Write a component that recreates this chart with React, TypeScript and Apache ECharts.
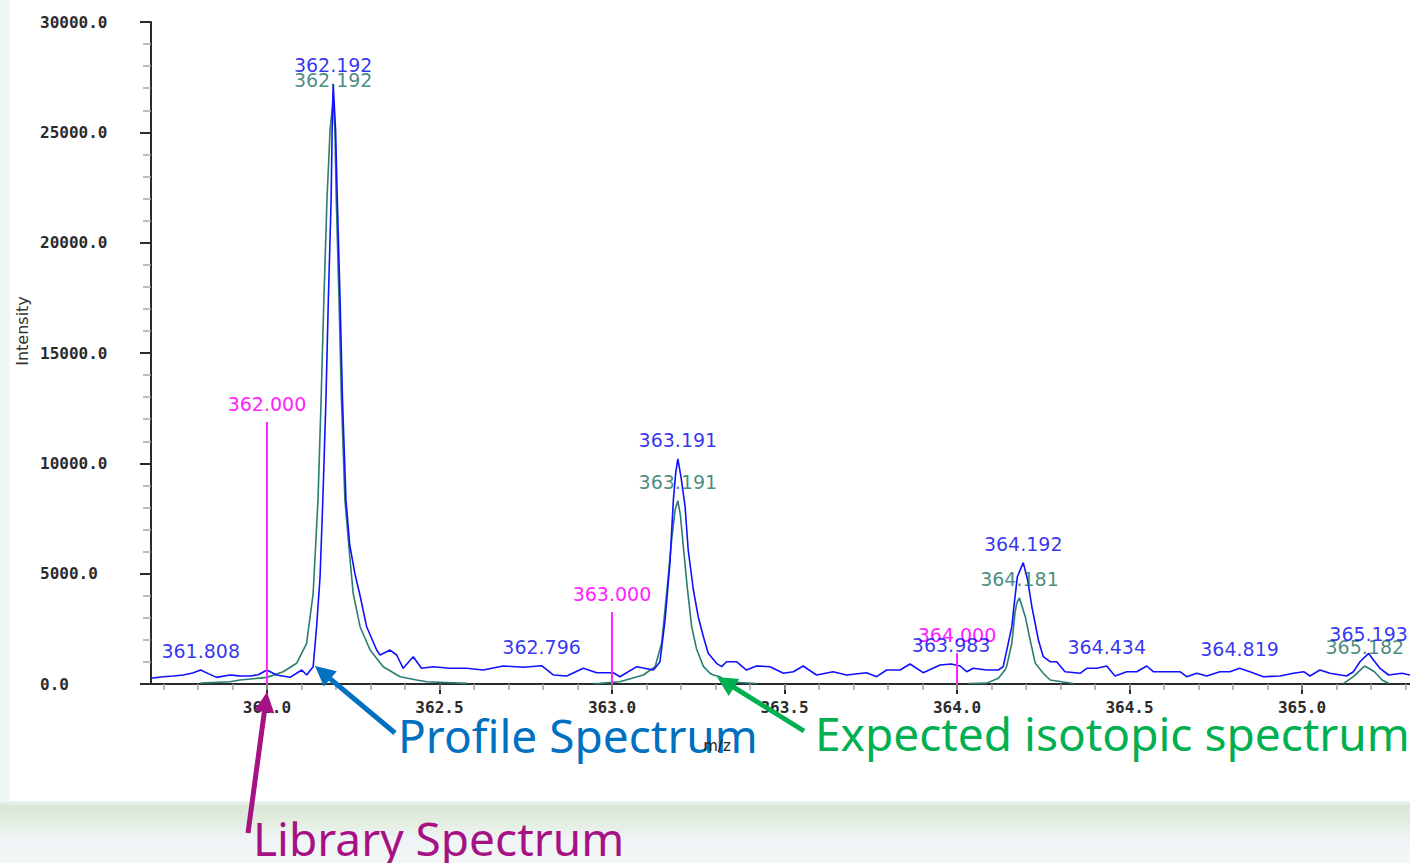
import React, { useEffect, useRef } from "react";
import * as echarts from "echarts";

// ---------- axis ticks ----------
const xMajorTicks = [362.0, 362.5, 363.0, 363.5, 364.0, 364.5, 365.0];
const xMinorTicks = [
  361.7, 361.8, 361.9, 362.0, 362.1, 362.2, 362.3, 362.4, 362.5, 362.6, 362.7, 362.8, 362.9,
  363.0, 363.1, 363.2, 363.3, 363.4, 363.5, 363.6, 363.7, 363.8, 363.9, 364.0, 364.1, 364.2,
  364.3, 364.4, 364.5, 364.6, 364.7, 364.8, 364.9, 365.0, 365.1, 365.2, 365.3,
];
const xRange = [361.664, 365.313];
const yRange = [0, 30000];

// ---------- profile spectrum (blue) [m/z, intensity] ----------
const profileSpectrum: [number, number][] = [
  [361.664, 260], [361.699, 330], [361.730, 360], [361.757, 410], [361.785, 500], [361.808, 634],
  [361.830, 470], [361.854, 300], [361.893, 410], [361.920, 370], [361.951, 363], [361.975, 420],
  [362.000, 634], [362.028, 408], [362.067, 302], [362.101, 634], [362.115, 408], [362.134, 785],
  [362.144, 2600], [362.154, 4860], [362.162, 8340], [362.171, 12870], [362.178, 17400],
  [362.186, 21935], [362.189, 25100], [362.192, 27200], [362.199, 25100], [362.204, 21935],
  [362.212, 17400], [362.219, 12870], [362.229, 8340], [362.240, 6300], [362.255, 5000],
  [362.270, 4000], [362.289, 2597], [362.318, 1540], [362.328, 1314], [362.357, 1540],
  [362.376, 1314], [362.395, 711], [362.424, 1237], [362.448, 711], [362.482, 785],
  [362.530, 711], [362.579, 711], [362.627, 634], [362.685, 815], [362.743, 757],
  [362.796, 830], [362.830, 408], [362.869, 363], [362.917, 711], [362.956, 512],
  [363.004, 512], [363.023, 331], [363.072, 785], [363.120, 634], [363.139, 1000],
  [363.154, 2900], [363.168, 5470], [363.178, 8340], [363.185, 9600], [363.191, 10200],
  [363.200, 9400], [363.212, 8035], [363.221, 6073], [363.236, 4260], [363.250, 3050],
  [363.265, 2144], [363.279, 1391], [363.303, 938], [363.318, 785], [363.332, 1010],
  [363.361, 1010], [363.390, 634], [363.419, 815], [363.458, 785], [363.497, 485],
  [363.526, 557], [363.554, 815], [363.593, 408], [363.641, 557], [363.680, 408],
  [363.738, 512], [363.767, 331], [363.796, 634], [363.835, 634], [363.864, 906],
  [363.902, 512], [363.951, 861], [363.983, 906], [364.009, 815], [364.028, 557],
  [364.047, 711], [364.086, 634], [364.120, 634], [364.134, 785], [364.159, 2597],
  [364.165, 3503], [364.175, 4860], [364.192, 5500], [364.205, 4700], [364.217, 3503],
  [364.236, 1994], [364.250, 1237], [364.270, 1010], [364.289, 1010], [364.313, 557],
  [364.357, 485], [364.376, 711], [364.405, 711], [364.434, 815], [364.458, 363],
  [364.492, 557], [364.521, 557], [364.550, 815], [364.569, 557], [364.646, 557],
  [364.666, 331], [364.695, 485], [364.724, 363], [364.762, 557], [364.791, 557],
  [364.819, 711], [364.849, 557], [364.888, 331], [364.936, 363], [364.975, 485],
  [365.005, 557], [365.023, 363], [365.052, 634], [365.081, 485], [365.129, 363],
  [365.149, 557], [365.168, 1010], [365.193, 1391], [365.207, 1088], [365.226, 711],
  [365.251, 408], [365.290, 485], [365.313, 408],
];

// ---------- expected isotopic spectrum (green), one array per isotope ----------
const expectedPeak1: [number, number][] = [
  [361.808, 40], [361.893, 100], [361.922, 180], [362.000, 300], [362.047, 557], [362.086, 938],
  [362.115, 1845], [362.134, 4110], [362.139, 5620], [362.148, 8340], [362.157, 12870],
  [362.165, 17400], [362.174, 21935], [362.183, 25100], [362.192, 26500], [362.197, 25100],
  [362.201, 21935], [362.209, 17400], [362.216, 12870], [362.226, 8340], [362.241, 5620],
  [362.250, 4110], [362.270, 2597], [362.299, 1540], [362.337, 784], [362.386, 331],
  [362.434, 181], [362.463, 100], [362.580, 30],
];
const expectedPeak2: [number, number][] = [
  [362.945, 20], [362.965, 30], [363.023, 104], [363.091, 408], [363.125, 785], [363.144, 1845],
  [363.159, 4200], [363.173, 6526], [363.183, 7900], [363.191, 8300], [363.198, 7700],
  [363.207, 6222], [363.218, 4410], [363.231, 2597], [363.245, 1600], [363.265, 800],
  [363.284, 485], [363.294, 408], [363.313, 331], [363.330, 100], [363.420, 25],
];
const expectedPeak3: [number, number][] = [
  [364.033, 20], [364.086, 40], [364.120, 258], [364.139, 634], [364.144, 800], [364.159, 1845],
  [364.168, 3204], [364.173, 3657], [364.181, 3900], [364.198, 3050], [364.212, 1994],
  [364.227, 938], [364.250, 485], [364.270, 181], [364.337, 20],
];
const expectedPeak4: [number, number][] = [
  [365.120, 20], [365.149, 331], [365.174, 711], [365.182, 815], [365.210, 557],
  [365.232, 181], [365.252, 20],
];

// ---------- library spectrum (magenta sticks) ----------
const librarySticks: [number, number][] = [
  [362.0, 11870], [363.0, 3260], [364.0, 1400],
];

// ---------- peak labels ----------
const profileLabels: [number, number][] = [
  [361.808, 634], [362.192, 27200], [362.796, 830], [363.191, 10200], [363.983, 906],
  [364.192, 5500], [364.434, 815], [364.819, 711], [365.193, 1391],
];
const expectedLabels: [number, number][] = [
  [362.192, 26500], [363.191, 8300], [364.181, 3900], [365.182, 815],
];

const BLUE = "#1010ff";
const BLUE_TEXT = "#0000ee";
const TEAL = "#2a7d71";
const TEAL_TEXT = "#18705f";
const MAGENTA = "#ff22ff";
const TICK_FONT = "DejaVu Sans Mono";
const LABEL_FONT = "DejaVu Sans";

function arrow(tail: number[], tip: number[], color: string) {
  const dx = tip[0] - tail[0];
  const dy = tip[1] - tail[1];
  const len = Math.sqrt(dx * dx + dy * dy);
  const ux = dx / len;
  const uy = dy / len;
  const headLen = 20;
  const headW = 10;
  const bx = tip[0] - ux * headLen;
  const by = tip[1] - uy * headLen;
  const nx = -uy;
  const ny = ux;
  return [
    {
      type: "line",
      z: 100,
      shape: { x1: tail[0], y1: tail[1], x2: bx + ux * 2, y2: by + uy * 2 },
      style: { stroke: color, lineWidth: 5 },
    },
    {
      type: "polygon",
      z: 100,
      shape: {
        points: [
          [tip[0], tip[1]],
          [bx + nx * headW, by + ny * headW],
          [bx - nx * headW, by - ny * headW],
        ],
      },
      style: { fill: color },
    },
  ];
}

export default function App() {
  const ref = useRef<HTMLDivElement>(null);

  useEffect(() => {
    if (!ref.current) return;
    const chart = echarts.init(ref.current, undefined, { renderer: "svg" });

    const peakLabel = (color: string) => ({
      show: true,
      position: "top" as const,
      distance: 9,
      color,
      fontFamily: LABEL_FONT,
      fontSize: 19,
      formatter: (p: any) => p.value[0].toFixed(3),
    });

    const greenLine = (data: [number, number][]) => ({
      type: "line",
      data,
      symbol: "none",
      xAxisIndex: 0,
      yAxisIndex: 0,
      lineStyle: { color: TEAL, width: 1.6 },
      z: 3,
      silent: true,
    });

    const labelSeries = (data: [number, number][], color: string, z: number) => ({
      type: "scatter",
      data,
      xAxisIndex: 0,
      yAxisIndex: 0,
      symbol: "circle",
      symbolSize: 1,
      itemStyle: { color: "rgba(0,0,0,0)" },
      label: peakLabel(color),
      labelLayout: { hideOverlap: false },
      z,
      silent: true,
    });

    const bigText = (text: string, x: number, y: number, fill: string) => ({
      type: "text",
      z: 90,
      x,
      y,
      style: {
        text,
        fill,
        font: `46px "Noto Sans"`,
        lineHeight: 34,
        align: "left",
        verticalAlign: "middle",
      },
    });

    chart.setOption({
      animation: false,
      backgroundColor: "transparent",
      grid: {
        left: 151,
        top: 22,
        right: 0,
        bottom: 179,
        containLabel: false,
        outerBoundsMode: "none",
      },
      xAxis: [
        {
          type: "value",
          min: xRange[0],
          max: xRange[1],
          position: "bottom",
          axisLine: { show: true, onZero: false, lineStyle: { color: "#2b2b2b", width: 2 } },
          axisTick: {
            show: true,
            customValues: xMajorTicks,
            length: 10,
            lineStyle: { color: "#2b2b2b", width: 2 },
          },
          axisLabel: {
            show: true,
            customValues: xMajorTicks,
            margin: 15,
            fontFamily: TICK_FONT,
            fontWeight: "bold",
            fontSize: 16,
            color: "#2b2b2b",
            formatter: (v: number) => v.toFixed(1),
          },
          splitLine: { show: false },
        },
        {
          type: "value",
          min: xRange[0],
          max: xRange[1],
          position: "bottom",
          axisLine: { show: false },
          axisTick: {
            show: true,
            customValues: xMinorTicks,
            length: 6,
            lineStyle: { color: "#a0a0a0", width: 1.5 },
          },
          axisLabel: { show: false },
          splitLine: { show: false },
        },
      ],
      yAxis: {
        type: "value",
        min: yRange[0],
        max: yRange[1],
        interval: 5000,
        axisLine: { show: true, lineStyle: { color: "#2b2b2b", width: 2 } },
        axisTick: { show: true, length: 11, lineStyle: { color: "#2b2b2b", width: 2 } },
        minorTick: { show: true, splitNumber: 5, length: 8, lineStyle: { color: "#a8a8a8", width: 1.5 } },
        axisLabel: {
          show: true,
          align: "left",
          margin: 111,
          fontFamily: TICK_FONT,
          fontWeight: "bold",
          fontSize: 16,
          color: "#2b2b2b",
          formatter: (v: number) => v.toFixed(1),
        },
        splitLine: { show: false },
        minorSplitLine: { show: false },
      },
      series: [
        greenLine(expectedPeak1),
        greenLine(expectedPeak2),
        greenLine(expectedPeak3),
        greenLine(expectedPeak4),
        {
          type: "line",
          data: profileSpectrum,
          symbol: "none",
          xAxisIndex: 0,
          yAxisIndex: 0,
          lineStyle: { color: BLUE, width: 1.6 },
          z: 4,
          silent: true,
        },
        {
          type: "bar",
          data: librarySticks,
          xAxisIndex: 0,
          yAxisIndex: 0,
          barWidth: 2,
          itemStyle: { color: MAGENTA },
          label: peakLabel(MAGENTA),
          z: 5,
          silent: true,
        },
        labelSeries(expectedLabels, TEAL_TEXT, 6),
        labelSeries(profileLabels, BLUE_TEXT, 7),
      ],
      graphic: [
        {
          type: "text",
          x: 22,
          y: 331,
          rotation: Math.PI / 2,
          style: {
            text: "Intensity",
            fill: "#333",
            font: `16px "${LABEL_FONT}"`,
            align: "center",
            verticalAlign: "middle",
          },
        },
        bigText("Profile Spectrum", 398, 735, "#0070c0"),
        bigText("Expected isotopic spectrum", 815, 733, "#00b050"),
        bigText("Library Spectrum", 253, 838, "#a61283"),
        {
          type: "text",
          z: 95,
          x: 717,
          y: 746,
          style: {
            text: "m/z",
            fill: "#222",
            font: `15px "${LABEL_FONT}"`,
            align: "center",
            verticalAlign: "middle",
          },
        },
        ...arrow([395, 733], [315, 666], "#0070c0"),
        ...arrow([804, 731], [717, 677], "#00b050"),
        ...arrow([248, 833], [267, 692], "#a61283"),
      ],
    });

    return () => chart.dispose();
  }, []);

  return (
    <div
      style={{
        position: "fixed",
        left: 0,
        top: 0,
        width: 1410,
        height: 863,
        overflow: "hidden",
        background:
          "linear-gradient(to bottom, #eef8f7 0px, #eef8f7 800px, #d9e7d6 806px, #e3ede0 822px, #eff5f6 840px, #f3f7f8 863px)",
      }}
    >
      <div
        style={{
          position: "absolute",
          left: 10,
          top: 0,
          width: 1400,
          height: 801,
          background: "#ffffff",
        }}
      />
      <div
        ref={ref}
        style={{ position: "absolute", left: 0, top: 0, width: 1410, height: 863 }}
      />
    </div>
  );
}
